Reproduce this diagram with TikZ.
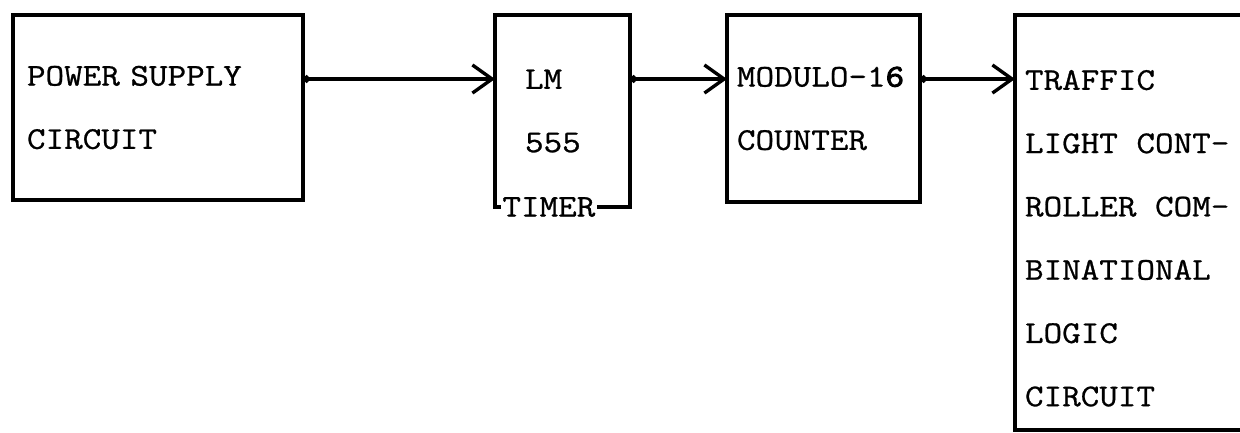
\documentclass[tikz,border=0pt]{standalone}
\usepackage{fontspec}
\setmonofont{Latin Modern Mono}[FakeStretch=1.14, FakeBold=0.8]
\newfontfamily\heavymono{Latin Modern Mono}[FakeStretch=1.14, FakeBold=3]
\usetikzlibrary{arrows.meta, positioning}
\tikzstyle{block} = [rectangle, draw=black, line width=2.8pt, outer sep=0pt, anchor=north west, align=left, inner ysep=0pt, font=\ttfamily\fontsize{22.5pt}{45pt}\selectfont]
\tikzstyle{txt} = [inner sep=0pt, outer sep=0pt, align=left, font=\ttfamily\fontsize{22.5pt}{45pt}\selectfont]
\tikzstyle{arrow} = [line width=2.4pt, {Circle[length=5pt]}-{Straight Barb[length=14pt, width=20pt]}]

\begin{document}
\begin{tikzpicture}[x=0.025cm, y=-0.025cm]
  \useasboundingbox (0,0) rectangle (1240,433);
  \clip (0,0) rectangle (1240,433);
  % Blocks
  \node[block, minimum height=4.625cm, inner xsep=0.35cm, text width=6.55cm] (psu) at (13,15) {POWER SUPPLY\\CIRCUIT};
  \node[block, minimum height=4.8cm, inner xsep=0.75cm, text width=1.875cm] (timer) at (495,15) {LM\\555};
  \node[txt, fill=white, inner xsep=1pt, right=0.15cm of timer.south west] (timerlbl) {TIMER};
  \node[block, minimum height=4.675cm, inner xsep=0.25cm, text width=4.325cm] (counter) at (727,15) {MODULO-1{\heavymono 6}\\COUNTER};
  \node[block, minimum width=6.875cm, minimum height=10.375cm] (ctrl) at (1015,15) {};
  \node[txt, below right=1.375cm and 0.25cm of ctrl.north west] (ctrltext) {TRAFFIC\\LIGHT CONT-\\ROLLER COM-\\BINATIONAL\\LOGIC\\CIRCUIT};

  % Connectors
  \draw[arrow] ([yshift=-1.6cm]psu.north east) -- ([yshift=-1.6cm]timer.north west);
  \draw[arrow] ([yshift=-1.6cm]timer.north east) -- ([yshift=-1.6cm]counter.north west);
  \draw[arrow] ([yshift=-1.6cm]counter.north east) -- ([yshift=-1.6cm]ctrl.north west);
\end{tikzpicture}
\end{document}
